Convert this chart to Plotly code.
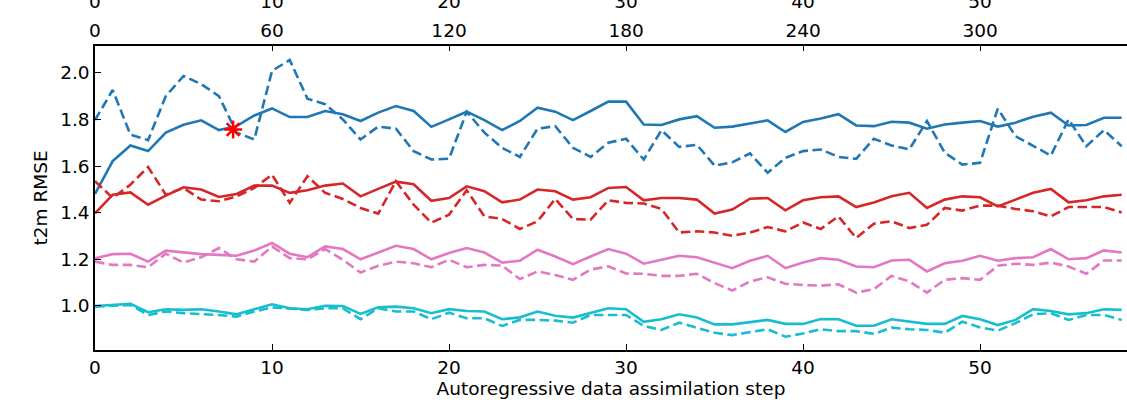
import plotly.graph_objects as go

steps = list(range(59))

blue_solid = [1.48, 1.621, 1.688, 1.664, 1.743, 1.777, 1.796, 1.754, 1.771, 1.817,
              1.847, 1.81, 1.81, 1.836, 1.822, 1.793, 1.829, 1.857, 1.836, 1.768,
              1.80, 1.833, 1.797, 1.754, 1.793, 1.850, 1.833, 1.797, 1.836, 1.876,
              1.876, 1.778, 1.776, 1.80, 1.814, 1.764, 1.769, 1.781, 1.796, 1.746,
              1.789, 1.804, 1.822, 1.774, 1.771, 1.79, 1.786, 1.76, 1.778, 1.786,
              1.793, 1.769, 1.786, 1.811, 1.829, 1.774, 1.776, 1.807, 1.807]
blue_dashed = [1.797, 1.926, 1.735, 1.711, 1.900, 1.986, 1.951, 1.900, 1.743, 1.714,
               2.008, 2.055, 1.889, 1.865, 1.80, 1.714, 1.769, 1.76, 1.664, 1.628,
               1.631, 1.833, 1.743, 1.678, 1.639, 1.76, 1.771, 1.678, 1.639, 1.70,
               1.717, 1.628, 1.754, 1.682, 1.691, 1.602, 1.616, 1.654, 1.571, 1.635,
               1.664, 1.671, 1.639, 1.631, 1.717, 1.688, 1.671, 1.793, 1.657, 1.606,
               1.614, 1.846, 1.728, 1.688, 1.645, 1.80, 1.685, 1.754, 1.685]
red_solid = [1.397, 1.477, 1.487, 1.434, 1.473, 1.509, 1.499, 1.467, 1.48, 1.516,
             1.516, 1.485, 1.496, 1.516, 1.525, 1.47, 1.502, 1.533, 1.522, 1.451,
             1.463, 1.513, 1.492, 1.444, 1.456, 1.499, 1.492, 1.456, 1.466, 1.506,
             1.51, 1.453, 1.463, 1.463, 1.456, 1.396, 1.413, 1.46, 1.463, 1.41,
             1.453, 1.466, 1.47, 1.424, 1.444, 1.47, 1.485, 1.42, 1.456, 1.47,
             1.466, 1.427, 1.456, 1.485, 1.502, 1.444, 1.453, 1.47, 1.477]
red_dashed = [1.535, 1.463, 1.52, 1.596, 1.477, 1.506, 1.456, 1.449, 1.47, 1.506,
              1.563, 1.442, 1.556, 1.485, 1.459, 1.42, 1.396, 1.535, 1.434, 1.357,
              1.391, 1.496, 1.384, 1.373, 1.33, 1.363, 1.459, 1.373, 1.37, 1.453,
              1.442, 1.439, 1.416, 1.315, 1.32, 1.315, 1.301, 1.315, 1.338, 1.32,
              1.358, 1.33, 1.384, 1.291, 1.353, 1.363, 1.334, 1.348, 1.42, 1.409,
              1.43, 1.43, 1.416, 1.406, 1.384, 1.424, 1.424, 1.424, 1.401]
pink_solid = [1.204, 1.222, 1.224, 1.19, 1.237, 1.229, 1.222, 1.219, 1.215, 1.238,
              1.27, 1.224, 1.209, 1.255, 1.244, 1.20, 1.229, 1.258, 1.244, 1.20,
              1.227, 1.248, 1.229, 1.186, 1.194, 1.241, 1.212, 1.179, 1.212, 1.244,
              1.224, 1.181, 1.198, 1.215, 1.209, 1.186, 1.162, 1.194, 1.215, 1.162,
              1.186, 1.205, 1.198, 1.169, 1.166, 1.195, 1.198, 1.148, 1.183, 1.194,
              1.215, 1.194, 1.205, 1.209, 1.244, 1.20, 1.205, 1.238, 1.229]
pink_dashed = [1.19, 1.176, 1.176, 1.166, 1.224, 1.186, 1.209, 1.248, 1.20, 1.19,
               1.255, 1.205, 1.20, 1.244, 1.198, 1.143, 1.172, 1.19, 1.183, 1.166,
               1.198, 1.166, 1.176, 1.173, 1.115, 1.148, 1.133, 1.112, 1.156, 1.17,
               1.139, 1.138, 1.129, 1.129, 1.138, 1.098, 1.066, 1.105, 1.123, 1.095,
               1.09, 1.087, 1.093, 1.057, 1.072, 1.129, 1.105, 1.057, 1.112, 1.119,
               1.112, 1.172, 1.181, 1.176, 1.186, 1.169, 1.138, 1.195, 1.195]
cyan_solid = [1.0, 1.004, 1.009, 0.973, 0.986, 0.983, 0.986, 0.976, 0.964, 0.986,
              1.007, 0.99, 0.986, 1.001, 1.0, 0.966, 0.994, 0.997, 0.99, 0.969,
              0.986, 0.978, 0.976, 0.943, 0.951, 0.976, 0.958, 0.95, 0.971, 0.99,
              0.986, 0.932, 0.943, 0.964, 0.95, 0.921, 0.921, 0.93, 0.94, 0.923,
              0.923, 0.944, 0.943, 0.915, 0.915, 0.943, 0.932, 0.923, 0.923, 0.957,
              0.943, 0.918, 0.94, 0.986, 0.978, 0.964, 0.969, 0.986, 0.983]
cyan_dashed = [0.997, 1.0, 1.004, 0.961, 0.976, 0.969, 0.966, 0.961, 0.954, 0.976,
               0.994, 0.987, 0.983, 0.99, 0.99, 0.943, 0.99, 0.976, 0.976, 0.943,
               0.971, 0.947, 0.947, 0.914, 0.94, 0.94, 0.937, 0.928, 0.961, 0.961,
               0.961, 0.914, 0.897, 0.928, 0.908, 0.885, 0.875, 0.889, 0.90, 0.868,
               0.882, 0.90, 0.892, 0.892, 0.88, 0.907, 0.90, 0.897, 0.885, 0.932,
               0.908, 0.894, 0.926, 0.964, 0.969, 0.94, 0.961, 0.961, 0.94]

star_x = [7.8]
star_y = [1.757]

bottom_ticks = [0, 10, 20, 30, 40, 50]
hour_labels = ["0", "60", "120", "180", "240", "300"]
step_labels = ["0", "10", "20", "30", "40", "50"]

series = [
    (blue_solid, "#1f77b4", "solid"),
    (blue_dashed, "#1f77b4", "dash"),
    (red_solid, "#d62728", "solid"),
    (red_dashed, "#d62728", "dash"),
    (pink_solid, "#e377c2", "solid"),
    (pink_dashed, "#e377c2", "dash"),
    (cyan_solid, "#17becf", "solid"),
    (cyan_dashed, "#17becf", "dash"),
]

fig = go.Figure()
for vals, color, style in series:
    fig.add_trace(go.Scatter(
        x=steps, y=vals, mode="lines",
        line=dict(color=color, width=2.6,
                  dash="solid" if style == "solid" else "9.5px,4.5px"),
        showlegend=False))

fig.add_trace(go.Scatter(
    x=star_x, y=star_y, mode="markers",
    marker=dict(symbol="asterisk-open", size=15, color="#ff0000",
                line=dict(color="#ff0000", width=2.5)),
    showlegend=False))

# invisible traces for the top axes
fig.add_trace(go.Scatter(x=[0], y=[1.0], xaxis="x2", mode="markers",
                         marker=dict(opacity=0), showlegend=False, hoverinfo="skip"))
fig.add_trace(go.Scatter(x=[0], y=[1.0], xaxis="x3", mode="markers",
                         marker=dict(opacity=0), showlegend=False, hoverinfo="skip"))

font = dict(family="DejaVu Sans", size=18.5, color="black")
xr = [0, 58.3]
fig.update_layout(
    width=1127, height=419,
    margin=dict(l=95, r=0, t=12, b=69, autoexpand=False),
    plot_bgcolor="white", paper_bgcolor="white",
    font=font,
    xaxis=dict(range=xr, tickvals=bottom_ticks, ticktext=step_labels,
               ticks="inside", ticklen=6, tickwidth=1.2, tickcolor="black",
               showline=True, linecolor="black", linewidth=1.5,
               showgrid=False, zeroline=False, automargin=False,
               title=dict(text="Autoregressive data assimilation step",
                          standoff=4, font=font),
               anchor="y"),
    xaxis2=dict(range=xr, tickvals=bottom_ticks, ticktext=hour_labels,
                overlaying="x", side="top", anchor="y",
                ticks="inside", ticklen=6, tickwidth=1.2, tickcolor="black",
                showline=True, linecolor="black", linewidth=1.5,
                showgrid=False, zeroline=False, automargin=False),
    xaxis3=dict(range=xr, tickvals=bottom_ticks, ticktext=step_labels,
                overlaying="x", side="top", anchor="free", position=1,
                ticks="", showline=False, showgrid=False, zeroline=False,
                automargin=False),
    yaxis=dict(range=[0.811, 2.116], domain=[0, 0.9003],
               tickvals=[1.0, 1.2, 1.4, 1.6, 1.8, 2.0], tickformat=".1f",
               ticks="inside", ticklen=6, tickwidth=1.2, tickcolor="black",
               showline=True, linecolor="black", linewidth=1.5,
               showgrid=False, zeroline=False, automargin=False,
               title=dict(text="t2m RMSE", standoff=8, font=font)),
)

fig.write_html("out.html",
               config={"displayModeBar": False},
               post_script="document.body.style.margin='0';"
                           "document.body.style.overflow='hidden';")
